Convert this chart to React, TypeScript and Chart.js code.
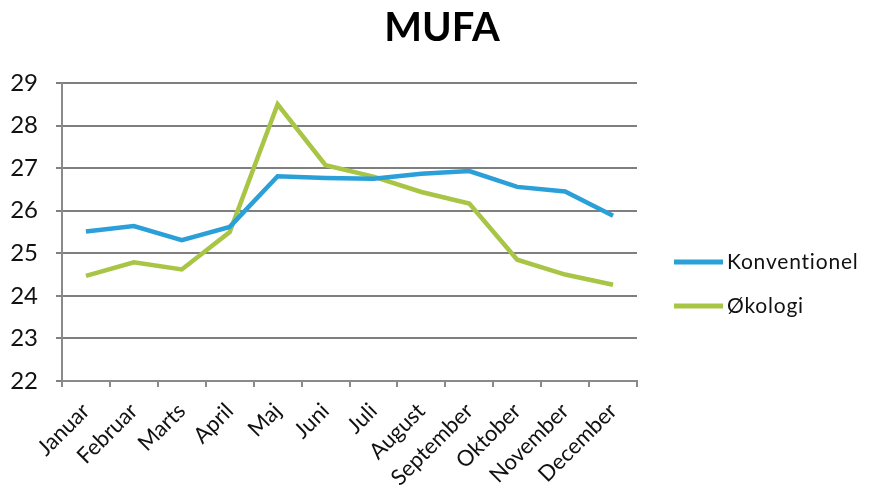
import React, { useEffect, useRef } from "react";
import { Chart, registerables } from "chart.js";

Chart.register(...registerables);

const title = "MUFA";
const months = ["Januar", "Februar", "Marts", "April", "Maj", "Juni", "Juli", "August", "September", "Oktober", "November", "December"];
const konventionel = [25.51, 25.64, 25.31, 25.62, 26.81, 26.77, 26.75, 26.87, 26.93, 26.56, 26.45, 25.88];
const okologi = [24.47, 24.79, 24.62, 25.5, 28.5, 27.07, 26.8, 26.44, 26.17, 24.85, 24.5, 24.26];
const seriesNames = ["Konventionel", "Økologi"];
const yTicks = [22, 23, 24, 25, 26, 27, 28, 29];

const FONT = "Lato, 'Open Sans', sans-serif";

const overlay = {
  id: "overlay",
  afterDraw(chart: any) {
    const ctx = chart.ctx;
    ctx.save();
    ctx.fillStyle = "#000";
    ctx.font = `bold 40px ${FONT}`;
    ctx.textAlign = "center";
    ctx.textBaseline = "middle";
    ctx.fillText(title, 442, 28);
    ctx.font = `21px ${FONT}`;
    try { (ctx as any).letterSpacing = "0.8px"; } catch (e) {}
    ctx.textAlign = "left";
    chart.data.datasets.forEach((ds: any, i: number) => {
      const y = 262 + i * 44;
      ctx.strokeStyle = ds.borderColor;
      ctx.lineWidth = 5;
      ctx.beginPath();
      ctx.moveTo(674, y);
      ctx.lineTo(723, y);
      ctx.stroke();
      ctx.fillStyle = "#111";
      ctx.fillText(ds.label, 727, y);
    });
    ctx.restore();
  },
};

export default function App() {
  const ref = useRef<HTMLCanvasElement>(null);
  useEffect(() => {
    const chart = new Chart(ref.current!, {
      type: "line",
      data: {
        labels: months,
        datasets: [
          { label: seriesNames[0], data: konventionel, borderColor: "#2a9fd8", borderWidth: 4.5, pointRadius: 0, tension: 0, fill: false },
          { label: seriesNames[1], data: okologi, borderColor: "#a8c545", borderWidth: 4.5, pointRadius: 0, tension: 0, fill: false },
        ],
      },
      options: {
        animation: false,
        responsive: false,
        layout: { padding: { top: 83, right: 234, left: 0, bottom: 0 } },
        plugins: { legend: { display: false }, title: { display: false }, tooltip: { enabled: false } },
        scales: {
          x: {
            offset: true,
            grid: { offset: true, drawOnChartArea: false, drawTicks: true, tickLength: 6, color: "#8a8a8a", lineWidth: 2 },
            border: { color: "#8a8a8a", width: 2 },
            ticks: { maxRotation: 45, minRotation: 45, autoSkip: false, color: "#111", font: { family: FONT, size: 22 }, padding: 11 },
            afterFit: (s: any) => { s.height = 110; },
          },
          y: {
            min: 22,
            max: 29,
            afterBuildTicks: (s: any) => { s.ticks = yTicks.map((v) => ({ value: v })); },
            grid: { color: "#7f7f7f", lineWidth: 2, tickLength: 6 },
            border: { color: "#8a8a8a", width: 2 },
            ticks: { color: "#111", font: { family: FONT, size: 24 }, padding: 18 },
            afterFit: (s: any) => { s.width = 62; },
          },
        },
      },
      plugins: [overlay],
    });
    return () => chart.destroy();
  }, []);
  return (
    <div style={{ position: "fixed", left: 0, top: 0, width: 871, height: 491, background: "#fff" }}>
      <canvas ref={ref} width={871} height={491} style={{ width: 871, height: 491 }} />
    </div>
  );
}
